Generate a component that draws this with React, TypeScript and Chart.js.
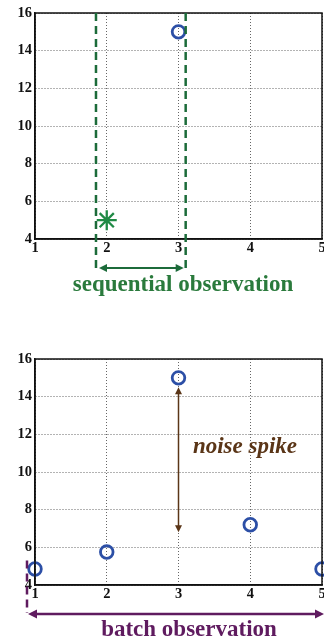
import React, { useEffect, useRef } from 'react';
import { Chart, registerables } from 'chart.js';

Chart.register(...registerables);

// Axis ticks
const xTicks = [1, 2, 3, 4, 5];
const yTicks = [4, 6, 8, 10, 12, 14, 16];

// Sequential panel: previous observation and the newly arriving one
const seqPastX = [3];
const seqPastY = [15];
const seqNewX = [2];
const seqNewY = [5];
const seqWindow = [1.85, 3.1];

// Batch panel: all observations
const batchX = [1, 2, 3, 4, 5];
const batchY = [4.85, 5.75, 15, 7.2, 4.85];
const spikeX = 3;
const spikeRange = [14.5, 6.8];

const BLUE = '#2c4fa6';
const GREEN = '#1c6b3a';
const GREEN_TEXT = '#2a7a3c';
const BROWN = '#5a3517';
const PURPLE = '#5f1b5f';
const SERIF = '"Liberation Serif", "Times New Roman", serif';

function arrowHead(ctx: CanvasRenderingContext2D, x: number, y: number, angle: number, size: number) {
  ctx.save();
  ctx.translate(x, y);
  ctx.rotate(angle);
  ctx.beginPath();
  ctx.moveTo(0, 0);
  ctx.lineTo(-size, -size * 0.5);
  ctx.lineTo(-size, size * 0.5);
  ctx.closePath();
  ctx.fill();
  ctx.restore();
}

function doubleArrow(ctx: CanvasRenderingContext2D, x1: number, y1: number, x2: number, y2: number, color: string, width: number, size: number) {
  const a = Math.atan2(y2 - y1, x2 - x1);
  ctx.save();
  ctx.strokeStyle = color;
  ctx.fillStyle = color;
  ctx.lineWidth = width;
  ctx.beginPath();
  ctx.moveTo(x1 + Math.cos(a) * size * 0.8, y1 + Math.sin(a) * size * 0.8);
  ctx.lineTo(x2 - Math.cos(a) * size * 0.8, y2 - Math.sin(a) * size * 0.8);
  ctx.stroke();
  arrowHead(ctx, x2, y2, a, size);
  arrowHead(ctx, x1, y1, a + Math.PI, size);
  ctx.restore();
}

function dashedLine(ctx: CanvasRenderingContext2D, x1: number, y1: number, x2: number, y2: number, color: string) {
  ctx.save();
  ctx.strokeStyle = color;
  ctx.lineWidth = 2.5;
  ctx.setLineDash([8, 5]);
  ctx.beginPath();
  ctx.moveTo(x1, y1);
  ctx.lineTo(x2, y2);
  ctx.stroke();
  ctx.restore();
}

const framePlugin = {
  id: 'frame',
  afterDatasetsDraw(chart: any) {
    const { ctx, chartArea: a } = chart;
    ctx.save();
    ctx.strokeStyle = '#111';
    ctx.lineWidth = 1.5;
    ctx.strokeRect(a.left, a.top, a.right - a.left, a.bottom - a.top);
    ctx.restore();
  },
};

function label(ctx: CanvasRenderingContext2D, text: string, font: string, color: string, x: number, y: number) {
  ctx.save();
  ctx.fillStyle = color;
  ctx.font = font;
  ctx.textAlign = 'center';
  ctx.textBaseline = 'alphabetic';
  ctx.fillText(text, x, y);
  ctx.restore();
}

function sequentialNotes(chart: any) {
  const { ctx, scales, chartArea } = chart;
  const xa = scales.x.getPixelForValue(seqWindow[0]);
  const xb = scales.x.getPixelForValue(seqWindow[1]);
  const bottom = chartArea.bottom + 34;
  dashedLine(ctx, xa, chartArea.top, xa, bottom, GREEN);
  dashedLine(ctx, xb, chartArea.top, xb, bottom, GREEN);
  doubleArrow(ctx, xa + 3, chartArea.bottom + 29, xb - 2, chartArea.bottom + 29, GREEN, 2, 8);
  label(ctx, 'sequential observation', `bold 23px ${SERIF}`, GREEN_TEXT, 183, chartArea.bottom + 52);
}

function batchNotes(chart: any) {
  const { ctx, scales, chartArea } = chart;
  const sx = scales.x.getPixelForValue(spikeX);
  doubleArrow(ctx, sx, scales.y.getPixelForValue(spikeRange[0]), sx, scales.y.getPixelForValue(spikeRange[1]), BROWN, 1.5, 7);
  label(ctx, 'noise spike', `italic bold 23px ${SERIF}`, BROWN, 245, scales.y.getPixelForValue(11));
  const lx = chartArea.left - 8;
  dashedLine(ctx, lx, scales.y.getPixelForValue(5.3), lx, chartArea.bottom + 28, PURPLE);
  doubleArrow(ctx, lx + 1, chartArea.bottom + 29, chartArea.right + 2, chartArea.bottom + 29, PURPLE, 2.5, 9);
  label(ctx, 'batch observation', `bold 23px ${SERIF}`, PURPLE, 189, chartArea.bottom + 51);
}

function baseOptions(padTop: number, xHeight: number, notes: (c: any) => void) {
  const tickFont = { family: SERIF, size: 14.5, weight: 'bold' as const };
  return {
    responsive: false,
    animation: false as const,
    layout: { autoPadding: false, padding: { top: padTop, right: 2, left: 0, bottom: 0 } },
    plugins: {
      legend: { display: false },
      tooltip: { enabled: false },
      notes: { draw: notes },
    },
    scales: {
      x: {
        type: 'linear' as const,
        min: 1,
        max: 5,
        afterBuildTicks: (s: any) => { s.ticks = xTicks.map((v) => ({ value: v })); },
        afterFit: (s: any) => { s.height = xHeight; s.paddingLeft = 0; s.paddingRight = 0; },
        ticks: { color: '#111', font: tickFont, padding: 1 },
        grid: { color: '#666', lineWidth: 1, drawTicks: false },
        border: { dash: [1, 2], color: '#111', width: 1.5 },
      },
      y: {
        type: 'linear' as const,
        min: 4,
        max: 16,
        afterBuildTicks: (s: any) => { s.ticks = yTicks.map((v) => ({ value: v })); },
        afterFit: (s: any) => { s.width = 35; s.paddingTop = 0; s.paddingBottom = 0; },
        ticks: { color: '#111', font: tickFont, padding: 3 },
        grid: { color: '#666', lineWidth: 1, drawTicks: false },
        border: { dash: [1, 2], color: '#111', width: 1.5 },
      },
    },
  };
}

const notesPlugin = {
  id: 'notes',
  afterDraw(chart: any, _args: any, opts: any) {
    if (opts && opts.draw) opts.draw(chart);
  },
};

function circleSet(xs: number[], ys: number[]) {
  return {
    data: xs.map((x, i) => ({ x, y: ys[i] })),
    showLine: false,
    pointStyle: 'circle',
    pointRadius: 6.3,
    pointBorderWidth: 2.8,
    pointBorderColor: BLUE,
    pointBackgroundColor: 'rgba(0,0,0,0)',
    clip: false as const,
  };
}

function PanelChart({ top, height, config }: { top: number; height: number; config: any }) {
  const ref = useRef<HTMLCanvasElement | null>(null);
  useEffect(() => {
    if (!ref.current) return;
    const chart = new Chart(ref.current, config);
    return () => chart.destroy();
  }, [config]);
  return (
    <canvas
      ref={ref}
      width={324}
      height={height}
      style={{ position: 'absolute', left: 0, top, width: 324, height }}
    />
  );
}

const sequentialConfig = {
  type: 'scatter' as const,
  data: {
    datasets: [
      circleSet(seqPastX, seqPastY),
      {
        data: seqNewX.map((x, i) => ({ x, y: seqNewY[i] })),
        showLine: false,
        pointStyle: 'star',
        pointRadius: 10,
        pointBorderWidth: 2.3,
        pointBorderColor: '#1f8a45',
        clip: false as const,
      },
    ],
  },
  options: baseOptions(13, 61, sequentialNotes),
  plugins: [framePlugin, notesPlugin],
};

const batchConfig = {
  type: 'scatter' as const,
  data: { datasets: [circleSet(batchX, batchY)] },
  options: baseOptions(19, 56, batchNotes),
  plugins: [framePlugin, notesPlugin],
};

export default function App() {
  return (
    <div style={{ position: 'absolute', left: 0, top: 0, width: 324, height: 641, background: '#fff', overflow: 'hidden' }}>
      <PanelChart top={0} height={300} config={sequentialConfig} />
      <PanelChart top={340} height={301} config={batchConfig} />
    </div>
  );
}
